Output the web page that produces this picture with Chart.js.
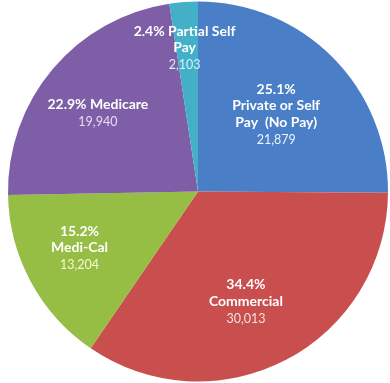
<!DOCTYPE html>
<html>
<head>
<meta charset="utf-8">
<script src="https://cdn.jsdelivr.net/npm/chart.js@4"></script>
<style>
  html, body { margin: 0; padding: 0; background: #fff; }
  #wrap { width: 390px; height: 383px; }
</style>
</head>
<body>
<div id="wrap"><canvas id="payerChart"></canvas></div>
<script>
// payer mix, clockwise from 12 o'clock
const categories = ["Private or Self Pay  (No Pay)", "Commercial", "Medi-Cal", "Medicare", "Partial Self Pay"];
const counts = [21879, 30013, 13204, 19940, 2103];
const percents = ["25.1%", "34.4%", "15.2%", "22.9%", "2.4%"];
const countLabels = ["21,879", "30,013", "13,204", "19,940", "2,103"];

// how each label block is broken into lines (bold lines, then the count)
const labelLines = [
  ["25.1%", "Private or Self", "Pay  (No Pay)"],
  ["34.4%", "Commercial"],
  ["15.2%", "Medi-Cal"],
  ["22.9% Medicare"],
  ["2.4% Partial Self", "Pay"]
];

const sliceColors = ["#4a7ec6", "#c84f4e", "#96bd44", "#7e5ea6", "#43b0c8"];
const countColors = ["#eef3ff", "#f6dede", "#f4f8d8", "#eadcf6", "#d8f2f8"];
// where to put each label block, as fraction of radius, plus angle nudge (deg)
const labelRadius = [0.58, 0.63, 0.69, 0.67, 0.76];
const labelNudge = [0, 4, 3, -2, -1];

const sliceLabels = {
  id: "sliceLabels",
  afterDatasetsDraw(chart) {
    const ctx = chart.ctx;
    const arcs = chart.getDatasetMeta(0).data;
    ctx.save();
    ctx.textAlign = "center";
    ctx.textBaseline = "middle";
    arcs.forEach((arc, i) => {
      const p = arc.getProps(["x", "y", "startAngle", "endAngle", "outerRadius"], true);
      const mid = (p.startAngle + p.endAngle) / 2 + labelNudge[i] * Math.PI / 180;
      const r = p.outerRadius * labelRadius[i];
      const cx = p.x + Math.cos(mid) * r;
      const cy = p.y + Math.sin(mid) * r;
      const lines = labelLines[i];
      const lineH = 16.5;
      const total = (lines.length + 1) * lineH;
      let y = cy - total / 2 + lineH / 2;
      ctx.fillStyle = "#ffffff";
      ctx.font = "bold 14px Lato, 'Open Sans', sans-serif";
      lines.forEach(t => {
        ctx.fillText(t, cx, y);
        y += lineH;
      });
      ctx.fillStyle = countColors[i];
      ctx.font = "12.5px Lato, 'Open Sans', sans-serif";
      ctx.fillText(countLabels[i], cx, y + 1);
    });
    ctx.restore();
  }
};

new Chart(document.getElementById("payerChart"), {
  type: "pie",
  data: {
    labels: categories,
    datasets: [{
      data: counts,
      backgroundColor: sliceColors,
      borderWidth: 0
    }]
  },
  options: {
    responsive: true,
    maintainAspectRatio: false,
    animation: false,
    layout: { padding: { left: 8, right: 2, top: 1, bottom: 1 } },
    plugins: {
      legend: { display: false },
      tooltip: { enabled: false }
    }
  },
  plugins: [sliceLabels]
});
</script>
</body>
</html>
